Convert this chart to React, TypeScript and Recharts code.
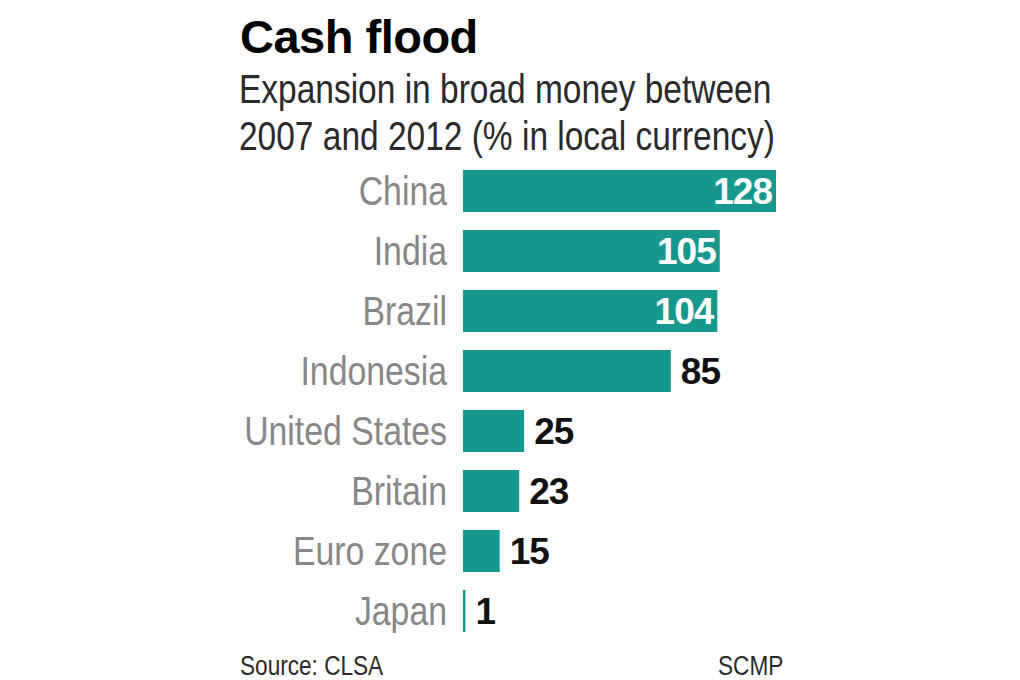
import React from 'react';
import { BarChart, Bar, XAxis, YAxis, LabelList } from 'recharts';

const countries = ['China', 'India', 'Brazil', 'Indonesia', 'United States', 'Britain', 'Euro zone', 'Japan'];
const growth = [128, 105, 104, 85, 25, 23, 15, 1];

const data = countries.map((country, i) => ({ country, growth: growth[i] }));

const TEAL = '#17988f';
const SANS = '"Liberation Sans", Arial, sans-serif';
// no condensed face installed, so the regular one is squeezed horizontally
const SQUEEZE = 0.837;
const TICK_SQUEEZE = 0.845;

const CountryTick = (props: any) => {
    const { x, y, payload } = props;
    return (
        <g transform={`translate(${x},${y})`}>
            <text transform={`scale(${TICK_SQUEEZE},1)`} x={0} y={0} dy={14} textAnchor="end" fill="#878787" fontSize={40} fontFamily={SANS}>
                {payload.value}
            </text>
        </g>
    );
};

const ValueLabel = (props: any) => {
    const { x, y, width, height, value } = props;
    const inside = value >= 100;
    return (
        <text
            x={inside ? x + width - 4 : x + width + 10}
            y={y + height / 2}
            dy={13}
            textAnchor={inside ? 'end' : 'start'}
            fill={inside ? '#ffffff' : '#111111'}
            fontSize={37}
            fontWeight="bold"
            fontFamily={SANS}
            letterSpacing={-1}
        >
            {value}
        </text>
    );
};

const narrow = (left: number, top: number, size: number, lh: number | string): React.CSSProperties => ({
    position: 'absolute',
    left,
    top,
    fontFamily: SANS,
    fontSize: size,
    lineHeight: lh,
    color: '#2a2a2a',
    whiteSpace: 'nowrap',
    transform: `scaleX(${SQUEEZE})`,
    transformOrigin: 'left top',
});

export default function App() {
    return (
        <div style={{ position: 'absolute', left: 0, top: 0, width: 1020, height: 680, background: '#fff', overflow: 'hidden' }}>
            <div style={{ position: 'absolute', left: 240, top: 13, fontFamily: SANS, fontWeight: 'bold', fontSize: 47, lineHeight: 1, color: '#000', letterSpacing: -0.5 }}>
                Cash flood
            </div>
            <div style={narrow(239, 66, 40, '47px')}>
                Expansion in broad money between<br />2007 and 2012 (% in local currency)
            </div>
            <div style={{ position: 'absolute', left: 0, top: 0 }}>
                <BarChart
                    width={1020}
                    height={680}
                    data={data}
                    layout="vertical"
                    margin={{ top: 161, right: 244, bottom: 39, left: 243 }}
                    barSize={42}
                >
                    <XAxis type="number" dataKey="growth" domain={[0, 128]} hide />
                    <YAxis
                        type="category"
                        dataKey="country"
                        width={220}
                        axisLine={false}
                        tickLine={false}
                        tickSize={0}
                        tickMargin={16}
                        interval={0}
                        tick={<CountryTick />}
                    />
                    <Bar dataKey="growth" fill={TEAL} isAnimationActive={false}>
                        <LabelList dataKey="growth" content={<ValueLabel />} />
                    </Bar>
                </BarChart>
            </div>
            <div style={narrow(240, 654, 27, '24px')}>Source: CLSA</div>
            <div style={narrow(718, 654, 27, '24px')}>SCMP</div>
        </div>
    );
}
